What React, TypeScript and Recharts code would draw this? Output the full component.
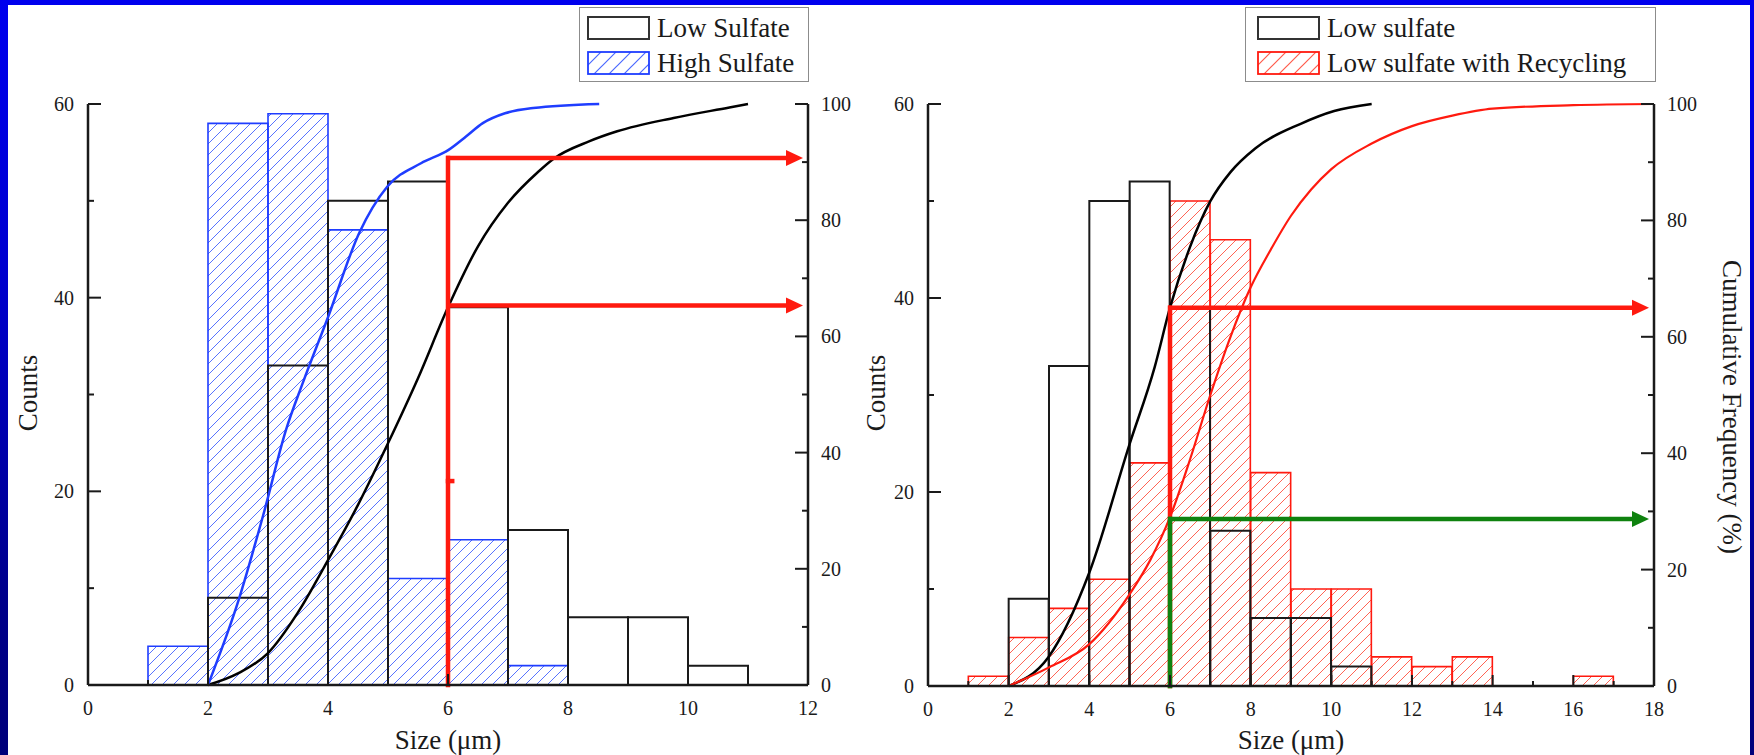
import React from 'react';
import { ComposedChart, Bar, Line, XAxis, YAxis, ReferenceLine } from 'recharts';

// histogram bins (centre of each 1 µm bin)
const leftBins = [1.5, 2.5, 3.5, 4.5, 5.5, 6.5, 7.5, 8.5, 9.5, 10.5];
const leftLowCounts = [null, 9, 33, 50, 52, 39, 16, 7, 7, 2];
const leftHighCounts = [4, 58, 59, 47, 11, 15, 2, null, null, null];

const rightBins = [1.5, 2.5, 3.5, 4.5, 5.5, 6.5, 7.5, 8.5, 9.5, 10.5, 11.5, 12.5, 13.5, 14.5, 15.5, 16.5];
const rightLowCounts = [null, 9, 33, 50, 52, 39, 16, 7, 7, 2, null, null, null, null, null, null];
const rightRecycleCounts = [1, 5, 8, 11, 23, 50, 46, 22, 10, 10, 3, 2, 3, null, null, 1];

// cumulative curves (size µm, cumulative %)
const leftLowCumX = [2, 2.5, 3, 3.5, 4, 4.5, 5, 5.5, 6, 6.5, 7, 7.5, 7.75, 8.36, 8.82, 9.76, 10.69, 11];
const leftLowCumP = [0, 2, 5.5, 12.5, 21.5, 31, 41.6, 52.8, 65, 75.5, 83, 88.3, 90.5, 93.6, 95.3, 97.6, 99.4, 100];
const leftHighCumX = [2, 2.51, 2.93, 3.3, 3.58, 4, 4.52, 4.99, 5.55, 6.01, 6.3, 6.58, 6.95, 7.42, 8.52];
const leftHighCumP = [0, 14.6, 29.6, 43.9, 52, 63.3, 77.8, 85.8, 89.8, 92.1, 94.4, 96.7, 98.4, 99.3, 100];

const rightLowCumX = [2, 2.98, 4, 5, 5.62, 6, 6.5, 7, 7.5, 8.12, 9.24, 10.07, 11];
const rightLowCumP = [0, 4.9, 19.5, 41.6, 54.8, 65, 75.5, 83.3, 88.3, 92.4, 96.6, 98.8, 100];
const rightRecycleCumX = [2, 3, 4, 5, 5.5, 6, 6.5, 7, 7.5, 8, 8.5, 9, 9.5, 10, 11, 12, 13, 14, 16, 18];
const rightRecycleCumP = [0, 3.2, 7.2, 15.8, 21.5, 29, 39, 50, 60, 68.5, 75, 80.8, 85.3, 88.8, 93.2, 96.2, 98, 99.2, 99.8, 100];

// guide arrows
const guideSize = 6;
const leftGuideLevels = [90.7, 65.3];
const leftGuideMark = 35.1;
const rightGuideLevels = [65, 28.7];

const countTicks = [0, 10, 20, 30, 40, 50, 60];
const pctTicks = [0, 10, 20, 30, 40, 50, 60, 70, 80, 90, 100];
const leftSizeTicks = [0, 1, 2, 3, 4, 5, 6, 7, 8, 9, 10, 11, 12];
const rightSizeTicks = [0, 1, 2, 3, 4, 5, 6, 7, 8, 9, 10, 11, 12, 13, 14, 15, 16, 17, 18];

const FONT = '"Liberation Serif", "Times New Roman", serif';
const BLUE = '#1f3dff';
const RED = '#ff1a0f';
const GREEN = '#0f820f';
const INK = '#1a1a1a';

const bins = (xs: number[], a: (number | null)[], b: (number | null)[]) =>
  xs.map((x, i) => ({ x, a: a[i], b: b[i] }));
const curve = (xs: number[], ps: number[]) => xs.map((x, i) => ({ x, p: ps[i] }));

function BottomTick(props: any) {
  const { x, y, payload } = props;
  const v = payload.value;
  const major = v % 2 === 0;
  return (
    <g>
      <line x1={x} y1={y} x2={x} y2={y - (major ? 11 : 5)} stroke={INK} strokeWidth={2} />
      {major && (
        <text x={x} y={y + 30} textAnchor="middle" fontFamily={FONT} fontSize={20} fill={INK}>
          {v}
        </text>
      )}
    </g>
  );
}

function LeftTick(props: any) {
  const { x, y, payload } = props;
  const v = payload.value;
  const major = v % 20 === 0;
  return (
    <g>
      <line x1={x} y1={y} x2={x + (major ? 13 : 6)} y2={y} stroke={INK} strokeWidth={2} />
      {major && (
        <text x={x - 14} y={y + 7} textAnchor="end" fontFamily={FONT} fontSize={20} fill={INK}>
          {v}
        </text>
      )}
    </g>
  );
}

function RightTick(props: any) {
  const { x, y, payload } = props;
  const v = payload.value;
  const major = v % 20 === 0;
  return (
    <g>
      <line x1={x} y1={y} x2={x - (major ? 13 : 6)} y2={y} stroke={INK} strokeWidth={2} />
      {major && (
        <text x={x + 13} y={y + 7} textAnchor="start" fontFamily={FONT} fontSize={20} fill={INK}>
          {v}
        </text>
      )}
    </g>
  );
}

const arrowShape = (color: string, head: boolean) => (p: any) => {
  const { x1, y1, x2, y2 } = p;
  if (!head) {
    return <line x1={x1} y1={y1} x2={x2} y2={y2} stroke={color} strokeWidth={4.5} strokeLinecap="square" />;
  }
  const tip = x2 - 5;
  const base = tip - 17;
  return (
    <g>
      <line x1={x1 - 2} y1={y1} x2={base + 1} y2={y2} stroke={color} strokeWidth={4.5} />
      <polygon points={`${base},${y2 - 8} ${tip},${y2} ${base},${y2 + 8}`} fill={color} />
    </g>
  );
};

function Legend({ left, width, swatchLeft, items }: any) {
  return (
    <div
      style={{
        position: 'absolute', left, top: 7, width, height: 75, boxSizing: 'border-box',
        border: '1.5px solid #8c8c8c', background: '#fff', fontFamily: FONT, fontSize: 27, color: INK,
      }}
    >
      {items.map((it: any, i: number) => (
        <div key={it.name} style={{ position: 'absolute', left: swatchLeft, top: 8 + i * 34.5, height: 24, display: 'flex', alignItems: 'center', whiteSpace: 'nowrap' }}>
          <svg width={63} height={24} style={{ display: 'block' }}>
            <rect x={1} y={1} width={61} height={22} fill={it.fill} stroke={it.stroke} strokeWidth={it.sw} />
          </svg>
          <span style={{ marginLeft: 7, lineHeight: '24px' }}>{it.name}</span>
        </div>
      ))}
    </div>
  );
}

const titleStyle: React.CSSProperties = {
  position: 'absolute', fontFamily: FONT, fontSize: 27, color: INK, whiteSpace: 'nowrap',
  transformOrigin: 'center center',
};

function VTitle({ text, cx, cy, angle }: { text: string; cx: number; cy: number; angle: number }) {
  return (
    <div style={{ ...titleStyle, left: cx - 200, top: cy - 20, width: 400, height: 40, lineHeight: '40px', textAlign: 'center', transform: `rotate(${angle}deg)` }}>
      {text}
    </div>
  );
}

function LeftChart() {
  const data = bins(leftBins, leftLowCounts, leftHighCounts);
  const top = Math.max(...leftGuideLevels);
  return (
    <div style={{ position: 'absolute', left: 0, top: 0 }}>
      <ComposedChart width={860} height={755} data={data} margin={{ top: 104, right: 2, bottom: 20, left: 28 }} barCategoryGap={0} barGap={0}>
        <XAxis xAxisId="main" dataKey="x" type="number" domain={[0, 12]} ticks={leftSizeTicks} interval={0}
          tickSize={0} tickMargin={0} tick={<BottomTick />} tickLine={false} height={50}
          axisLine={{ stroke: INK, strokeWidth: 2.5 }} allowDataOverflow />
        <XAxis xAxisId="hi" dataKey="x" type="number" domain={[0, 12]} hide height={0} allowDataOverflow />
        <XAxis xAxisId="cum" dataKey="x" type="number" domain={[0, 12]} hide height={0} allowDataOverflow />
        <YAxis yAxisId="cnt" orientation="left" domain={[0, 60]} ticks={countTicks} interval={0} width={60}
          tickSize={0} tickMargin={0} tick={<LeftTick />} tickLine={false} axisLine={{ stroke: INK, strokeWidth: 2.5 }} />
        <YAxis yAxisId="pct" orientation="right" domain={[0, 100]} ticks={pctTicks} interval={0} width={50}
          tickSize={0} tickMargin={0} tick={<RightTick />} tickLine={false} axisLine={{ stroke: INK, strokeWidth: 2.5 }} />
        <Bar xAxisId="hi" yAxisId="cnt" dataKey="b" name="High Sulfate" fill="url(#hatchBlue)" stroke={BLUE} strokeWidth={1.6} isAnimationActive={false} />
        <Bar xAxisId="main" yAxisId="cnt" dataKey="a" name="Low Sulfate" fill="none" stroke={INK} strokeWidth={2} isAnimationActive={false} />
        <Line xAxisId="cum" yAxisId="pct" data={curve(leftLowCumX, leftLowCumP)} dataKey="p" type="monotone" dot={false}
          stroke="#000" strokeWidth={2.5} isAnimationActive={false} />
        <Line xAxisId="cum" yAxisId="pct" data={curve(leftHighCumX, leftHighCumP)} dataKey="p" type="monotone" dot={false}
          stroke={BLUE} strokeWidth={2.5} isAnimationActive={false} />
        <ReferenceLine xAxisId="cum" yAxisId="pct" segment={[{ x: guideSize, y: 0 }, { x: guideSize, y: top }]}
          shape={arrowShape(RED, false)} ifOverflow="visible" />
        {leftGuideLevels.map((lv) => (
          <ReferenceLine key={lv} xAxisId="cum" yAxisId="pct" segment={[{ x: guideSize, y: lv }, { x: 12, y: lv }]}
            shape={arrowShape(RED, true)} ifOverflow="visible" />
        ))}
        <ReferenceLine xAxisId="cum" yAxisId="pct" segment={[{ x: guideSize, y: leftGuideMark }, { x: guideSize + 0.07, y: leftGuideMark }]}
          shape={arrowShape(RED, false)} ifOverflow="visible" />
      </ComposedChart>
    </div>
  );
}

function RightChart() {
  const data = bins(rightBins, rightLowCounts, rightRecycleCounts);
  const guideColors = [RED, GREEN];
  return (
    <div style={{ position: 'absolute', left: 860, top: 0 }}>
      <ComposedChart width={894} height={755} data={data} margin={{ top: 104, right: 8, bottom: 19, left: 8 }} barCategoryGap={0} barGap={0}>
        <XAxis xAxisId="main" dataKey="x" type="number" domain={[0, 18]} ticks={rightSizeTicks} interval={0}
          tickSize={0} tickMargin={0} tick={<BottomTick />} tickLine={false} height={50}
          axisLine={{ stroke: INK, strokeWidth: 2.5 }} allowDataOverflow />
        <XAxis xAxisId="rec" dataKey="x" type="number" domain={[0, 18]} hide height={0} allowDataOverflow />
        <XAxis xAxisId="cum" dataKey="x" type="number" domain={[0, 18]} hide height={0} allowDataOverflow />
        <YAxis yAxisId="cnt" orientation="left" domain={[0, 60]} ticks={countTicks} interval={0} width={60}
          tickSize={0} tickMargin={0} tick={<LeftTick />} tickLine={false} axisLine={{ stroke: INK, strokeWidth: 2.5 }} />
        <YAxis yAxisId="pct" orientation="right" domain={[0, 100]} ticks={pctTicks} interval={0} width={92}
          tickSize={0} tickMargin={0} tick={<RightTick />} tickLine={false} axisLine={{ stroke: INK, strokeWidth: 2.5 }} />
        <Bar xAxisId="rec" yAxisId="cnt" dataKey="b" name="Low sulfate with Recycling" fill="url(#hatchRed)" stroke={RED} strokeWidth={1.6} isAnimationActive={false} />
        <Bar xAxisId="main" yAxisId="cnt" dataKey="a" name="Low sulfate" fill="none" stroke={INK} strokeWidth={2} isAnimationActive={false} />
        <Line xAxisId="cum" yAxisId="pct" data={curve(rightLowCumX, rightLowCumP)} dataKey="p" type="monotone" dot={false}
          stroke="#000" strokeWidth={2.5} isAnimationActive={false} />
        <Line xAxisId="cum" yAxisId="pct" data={curve(rightRecycleCumX, rightRecycleCumP)} dataKey="p" type="monotone" dot={false}
          stroke={RED} strokeWidth={2.2} isAnimationActive={false} />
        {rightGuideLevels.map((lv, i) => (
          <ReferenceLine key={'v' + lv} xAxisId="cum" yAxisId="pct" segment={[{ x: guideSize, y: 0 }, { x: guideSize, y: lv }]}
            shape={arrowShape(guideColors[i], false)} ifOverflow="visible" />
        ))}
        {rightGuideLevels.map((lv, i) => (
          <ReferenceLine key={'h' + lv} xAxisId="cum" yAxisId="pct" segment={[{ x: guideSize, y: lv }, { x: 18, y: lv }]}
            shape={arrowShape(guideColors[i], true)} ifOverflow="visible" />
        ))}
      </ComposedChart>
    </div>
  );
}

export default function App() {
  return (
    <div style={{ position: 'absolute', left: 0, top: 0, width: 1754, height: 755, overflow: 'hidden',
      background: 'linear-gradient(to bottom, #0000ee 0%, #0000d0 35%, #00008a 80%, #00007a 100%)' }}>
      <div style={{ position: 'absolute', left: 8, top: 5, width: 1742, height: 750, background: '#fff' }} />
      <svg width={0} height={0} style={{ position: 'absolute' }}>
        <defs>
          <pattern id="hatchBlue" patternUnits="userSpaceOnUse" width={11} height={11}>
            <path d="M-2,2 L2,-2 M0,11 L11,0 M9,13 L13,9" stroke="#5773ff" strokeWidth={1} />
          </pattern>
          <pattern id="hatchRed" patternUnits="userSpaceOnUse" width={11} height={11}>
            <path d="M-2,2 L2,-2 M0,11 L11,0 M9,13 L13,9" stroke="#ff6455" strokeWidth={1} />
          </pattern>
          <pattern id="hatchBlueLg" patternUnits="userSpaceOnUse" width={15} height={15}>
            <path d="M-2,2 L2,-2 M0,15 L15,0 M13,17 L17,13" stroke="#4a68ff" strokeWidth={1.2} />
          </pattern>
          <pattern id="hatchRedLg" patternUnits="userSpaceOnUse" width={15} height={15}>
            <path d="M-2,2 L2,-2 M0,15 L15,0 M13,17 L17,13" stroke="#ff5a4a" strokeWidth={1.2} />
          </pattern>
        </defs>
      </svg>
      <LeftChart />
      <RightChart />
      <Legend left={579} width={230} swatchLeft={7} items={[
        { name: 'Low Sulfate', fill: '#fff', stroke: '#333', sw: 2 },
        { name: 'High Sulfate', fill: 'url(#hatchBlueLg)', stroke: BLUE, sw: 1.8 },
      ]} />
      <Legend left={1245} width={411} swatchLeft={11} items={[
        { name: 'Low sulfate', fill: '#fff', stroke: '#333', sw: 2 },
        { name: 'Low sulfate with Recycling', fill: 'url(#hatchRedLg)', stroke: RED, sw: 1.8 },
      ]} />
      <VTitle text="Counts" cx={28} cy={393} angle={-90} />
      <VTitle text="Counts" cx={876} cy={393} angle={-90} />
      <VTitle text="Cumulative Frequency (%)" cx={1732} cy={407} angle={90} />
      <VTitle text="Size (μm)" cx={448} cy={740} angle={0} />
      <VTitle text="Size (μm)" cx={1291} cy={740} angle={0} />
    </div>
  );
}
